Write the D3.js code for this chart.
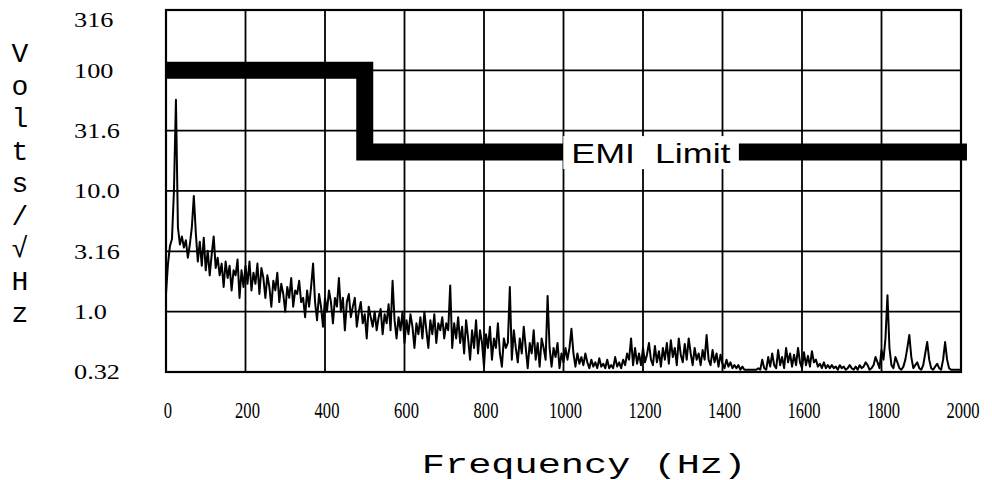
<!DOCTYPE html>
<html><head><meta charset="utf-8">
<script src="https://cdn.jsdelivr.net/npm/d3@7"></script>
<style>html,body{margin:0;padding:0;background:#fff;} svg{display:block;}</style>
</head><body>
<svg id="chart" width="992" height="480"></svg>
<script>
// ---------- data ----------
const freqTicks = [0, 200, 400, 600, 800, 1000, 1200, 1400, 1600, 1800, 2000];
const voltTicks = [316, 100, 31.6, 10, 3.16, 1, 0.316];
const voltTickLabels = ["316", "100", "31.6", "10.0", "3.16", "1.0", "0.32"];
const yTitleChars = ["V", "o", "l", "t", "s", "/", "\u221A", "H", "z"];
const xTitle = "Frequency (Hz)";
const emiFreq = [0, 500, 500, 2015];
const emiLevel = [100, 100, 21, 21];
const emiLabel = "EMI\u00A0\u00A0Limit";
const specStepHz = 5;
const spectrum = [
 1.4,2.5,3.5,4.0,10,57,5,3.6,4.2,3.4, 3.9,2.8,3.6,5,9.1,4.5,2.6,3.8,2.4,4.1,
 2.2,3.2,2.0,3.0,4.2,2.3,2.8,2.0,2.5,1.6, 2.6,1.9,2.4,1.5,2.2,2.0,2.7,1.3,2.2,1.6,
 2.4,1.7,2.6,1.5,2.1,1.7,2.5,1.4,2.3,1.9, 1.3,2.0,1.6,1.1,1.8,1.5,2.1,1.2,1.7,1.4,
 1.0,1.6,1.3,1.9,1.1,1.5,1.4,1.8,1.2,1.3, 0.9,1.5,1.1,1.6,2.5,1.2,0.85,1.4,1.1,0.75,
 1.3,1.0,1.5,1.2,0.8,1.3,1.1,1.9,1.0,1.3, 0.7,1.2,1.4,0.9,1.1,1.3,0.75,1.0,1.2,0.8,
 0.95,0.6,1.1,0.9,0.75,1.0,0.7,0.9,1.05,0.65, 0.95,0.8,1.15,0.7,1.8,0.85,0.6,0.9,0.7,1.0,
 0.55,0.85,0.65,0.95,0.75,0.5,0.8,0.65,0.9,0.6, 1.0,0.7,0.5,0.85,0.65,0.95,0.55,0.8,0.7,0.9,
 0.6,0.8,0.7,1.65,0.5,0.8,0.6,0.9,0.55,0.75, 0.45,0.85,0.6,0.4,0.7,0.5,0.85,0.45,0.7,0.55,
 0.35,0.65,0.5,0.75,0.4,0.6,0.5,0.8,0.45,0.35, 0.6,0.5,0.55,1.6,0.4,0.7,0.5,0.38,0.6,0.45,
 0.75,0.5,0.34,0.55,0.45,0.7,0.4,0.55,0.35,0.6, 0.5,0.4,1.35,0.5,0.35,0.5,0.42,0.55,0.34,0.45,
 0.38,0.5,0.4,0.5,0.72,0.45,0.35,0.45,0.37,0.42, 0.36,0.45,0.38,0.34,0.4,0.35,0.38,0.34,0.41,0.35,
 0.37,0.34,0.4,0.34,0.36,0.34,0.42,0.35,0.38,0.34, 0.4,0.36,0.45,0.4,0.6,0.36,0.5,0.37,0.45,0.36,
 0.5,0.38,0.44,0.55,0.4,0.36,0.52,0.38,0.47,0.35, 0.5,0.4,0.55,0.37,0.58,0.42,0.5,0.36,0.6,0.44,
 0.38,0.54,0.4,0.6,0.45,0.36,0.5,0.4,0.45,0.36, 0.48,0.4,0.64,0.4,0.36,0.48,0.38,0.45,0.35,0.44,
 0.37,0.34,0.4,0.35,0.38,0.34,0.36,0.34,0.36,0.33, 0.35,0.33,0.33,0.33,0.33,0.33,0.33,0.33,0.34,0.33,
 0.4,0.34,0.33,0.42,0.35,0.45,0.36,0.34,0.48,0.36, 0.42,0.34,0.5,0.38,0.45,0.35,0.44,0.36,0.5,0.38,
 0.34,0.46,0.36,0.43,0.35,0.47,0.38,0.4,0.35,0.37, 0.34,0.38,0.34,0.36,0.34,0.36,0.34,0.35,0.33,0.36,
 0.34,0.35,0.33,0.34,0.36,0.34,0.33,0.35,0.33,0.36, 0.34,0.35,0.38,0.36,0.33,0.34,0.36,0.42,0.38,0.34,
 0.48,0.4,0.6,1.37,0.5,0.36,0.34,0.42,0.38,0.34, 0.33,0.35,0.4,0.5,0.64,0.42,0.34,0.36,0.38,0.34,
 0.33,0.36,0.45,0.56,0.4,0.34,0.33,0.35,0.37,0.34, 0.33,0.4,0.56,0.4,0.34,0.33,0.33,0.33,0.33,0.33,
 0.33
];

// ---------- layout ----------
const svg = d3.select("#chart");
const plot = {left: 166, right: 961, top: 10, bottom: 372};
const x = d3.scaleLinear().domain([0, 2000]).range([plot.left, plot.right]);
const y = d3.scaleLog().domain([0.316, 316]).range([plot.bottom, plot.top]);

svg.append("defs").append("clipPath").attr("id", "clip")
  .append("rect").attr("x", plot.left).attr("y", plot.top)
  .attr("width", plot.right - plot.left).attr("height", plot.bottom - plot.top);

// gridlines
const grid = svg.append("g").attr("stroke", "#000").attr("stroke-width", 1.8);
grid.selectAll("line.v").data(freqTicks.slice(1, -1)).join("line")
  .attr("class", "v")
  .attr("x1", d => x(d)).attr("x2", d => x(d))
  .attr("y1", plot.top).attr("y2", plot.bottom);
grid.selectAll("line.h").data(voltTicks.slice(1, -1)).join("line")
  .attr("class", "h")
  .attr("x1", plot.left).attr("x2", plot.right)
  .attr("y1", d => y(d)).attr("y2", d => y(d));

// frame
svg.append("rect").attr("x", plot.left).attr("y", plot.top)
  .attr("width", plot.right - plot.left).attr("height", plot.bottom - plot.top)
  .attr("fill", "none").attr("stroke", "#000").attr("stroke-width", 2.2);

// spectrum
const specData = spectrum.map((v, i) => ({f: i * specStepHz, v}));
svg.append("path").datum(specData)
  .attr("clip-path", "url(#clip)")
  .attr("fill", "none").attr("stroke", "#000").attr("stroke-width", 2)
  .attr("stroke-linejoin", "round")
  .attr("d", d3.line().x(d => x(d.f)).y(d => y(d.v)));

// EMI limit
const emiData = emiFreq.map((f, i) => ({f, v: emiLevel[i]}));
svg.append("path").datum(emiData)
  .attr("fill", "none").attr("stroke", "#000").attr("stroke-width", 17)
  .attr("stroke-linejoin", "miter").attr("stroke-linecap", "butt")
  .attr("d", d3.line().x(d => x(d.f)).y(d => y(d.v)));

const emiText = svg.append("text")
  .attr("x", x(1220)).attr("y", y(21) + 11)
  .attr("text-anchor", "middle")
  .attr("font-family", "Arial, 'Liberation Sans', sans-serif")
  .attr("font-size", 28).attr("fill", "#000")
  .text(emiLabel);
const emiW = emiText.node().getComputedTextLength();
emiText.attr("textLength", emiW * 1.28).attr("lengthAdjust", "spacingAndGlyphs");
const bb = emiText.node().getBBox();
svg.insert("rect", "text")
  .attr("x", bb.x - 8).attr("y", bb.y - 2)
  .attr("width", bb.width + 16).attr("height", bb.height + 2)
  .attr("fill", "#fff");

// y tick labels
const yLab = svg.append("g")
  .attr("font-family", "'Times New Roman', 'Liberation Serif', serif")
  .attr("font-size", 21).attr("fill", "#000");
yLab.selectAll("text").data(voltTicks).join("text")
  .attr("x", 74)
  .attr("y", d => Math.max(y(d), plot.top + 10))
  .attr("dy", "0.35em")
  .text((d, i) => voltTickLabels[i])
  .each(function() {
    const w = this.getComputedTextLength();
    d3.select(this).attr("textLength", w * 1.25).attr("lengthAdjust", "spacingAndGlyphs");
  });

// x tick labels
const xLab = svg.append("g")
  .attr("font-family", "'Times New Roman', 'Liberation Serif', serif")
  .attr("font-size", 23).attr("fill", "#000");
xLab.selectAll("text").data(freqTicks).join("text")
  .attr("x", d => x(d) + 2)
  .attr("y", plot.bottom + 46)
  .attr("text-anchor", "middle")
  .text(d => d)
  .each(function() {
    const w = this.getComputedTextLength();
    d3.select(this).attr("textLength", w * 0.72).attr("lengthAdjust", "spacingAndGlyphs");
  });

// y title (stacked letters)
svg.append("g")
  .attr("font-family", "'Courier New', 'Liberation Mono', monospace")
  .attr("font-size", 28).attr("fill", "#000")
  .selectAll("text").data(yTitleChars).join("text")
  .attr("x", 20).attr("y", (d, i) => 62 + i * 32.5)
  .attr("text-anchor", "middle")
  .text(d => d);

// x title
const xt = svg.append("text")
  .attr("x", 584).attr("y", 473)
  .attr("text-anchor", "middle")
  .attr("font-family", "'Courier New', 'Liberation Mono', monospace")
  .attr("font-size", 27).attr("fill", "#000")
  .text(xTitle);
const xtw = xt.node().getComputedTextLength();
xt.attr("textLength", xtw * 1.43).attr("lengthAdjust", "spacingAndGlyphs");
</script>
</body></html>
